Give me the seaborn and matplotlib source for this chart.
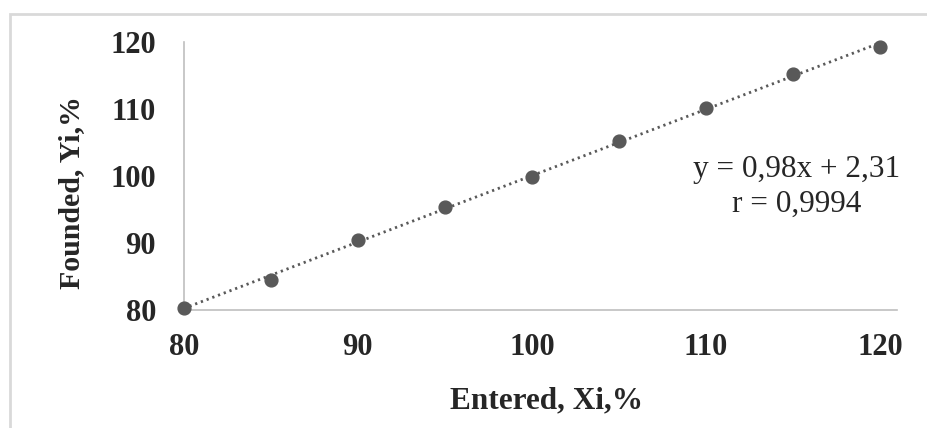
import matplotlib
matplotlib.use("Agg")
import matplotlib.pyplot as plt
import seaborn as sns
import numpy as np
from matplotlib.patches import Rectangle

# values
entered = [80, 85, 90, 95, 100, 105, 110, 115, 120]
founded = [80.3, 84.5, 90.4, 95.4, 99.9, 105.2, 110.1, 115.2, 119.3]
xticks = [80, 90, 100, 110, 120]
yticks = [80, 90, 100, 110, 120]
eq_text = "y = 0,98x + 2,31"
r_text = "r = 0,9994"

sns.set_style("white")
plt.rcParams['font.family'] = ['Liberation Serif', 'DejaVu Serif']

fig = plt.figure(figsize=(9.28, 4.28), dpi=100)
ax = fig.add_axes([0.198, 0.276, 0.769, 0.626])

# outer chart frame (only top and left visible in the reference)
fig.patches.append(Rectangle((10 / 928, -0.1), 1.2, 1 - 14 / 428 + 0.1,
                             transform=fig.transFigure, fill=False,
                             edgecolor="#d9d9d9", linewidth=2))

grey = "#595959"
sns.regplot(x=entered, y=founded, ax=ax, ci=None, color=grey,
            scatter_kws={"s": 85, "clip_on": False, "zorder": 3, "alpha": 1},
            line_kws={"ls": (0, (0.8, 1.4)), "lw": 2.0, "color": grey})

ax.set_xlim(80, 121)
ax.set_ylim(80, 120)
ax.set_xticks(xticks)
ax.set_yticks(yticks)
ax.tick_params(length=0, labelsize=22)
ax.tick_params(axis="x", pad=17)
ax.tick_params(axis="y", pad=20)
for lab in ax.get_xticklabels() + ax.get_yticklabels():
    lab.set_fontweight("bold")

sns.despine(ax=ax)
for s in ["left", "bottom"]:
    ax.spines[s].set_color("#bfbfbf")
    ax.spines[s].set_linewidth(1.2)

ax.set_xlabel("Entered, Xi,%", fontsize=22.5, fontweight="bold")
ax.set_ylabel("Founded, Yi,%", fontsize=21.5, fontweight="bold")
ax.xaxis.set_label_coords(0.509, -0.287)
ax.yaxis.set_label_coords(-0.138, 0.437)

ax.text(0.859, 0.496, eq_text, transform=ax.transAxes, ha="center",
        va="baseline", fontsize=22.5)
ax.text(0.859, 0.366, r_text, transform=ax.transAxes, ha="center",
        va="baseline", fontsize=22.5)

fig.savefig("out.png", dpi=100)
